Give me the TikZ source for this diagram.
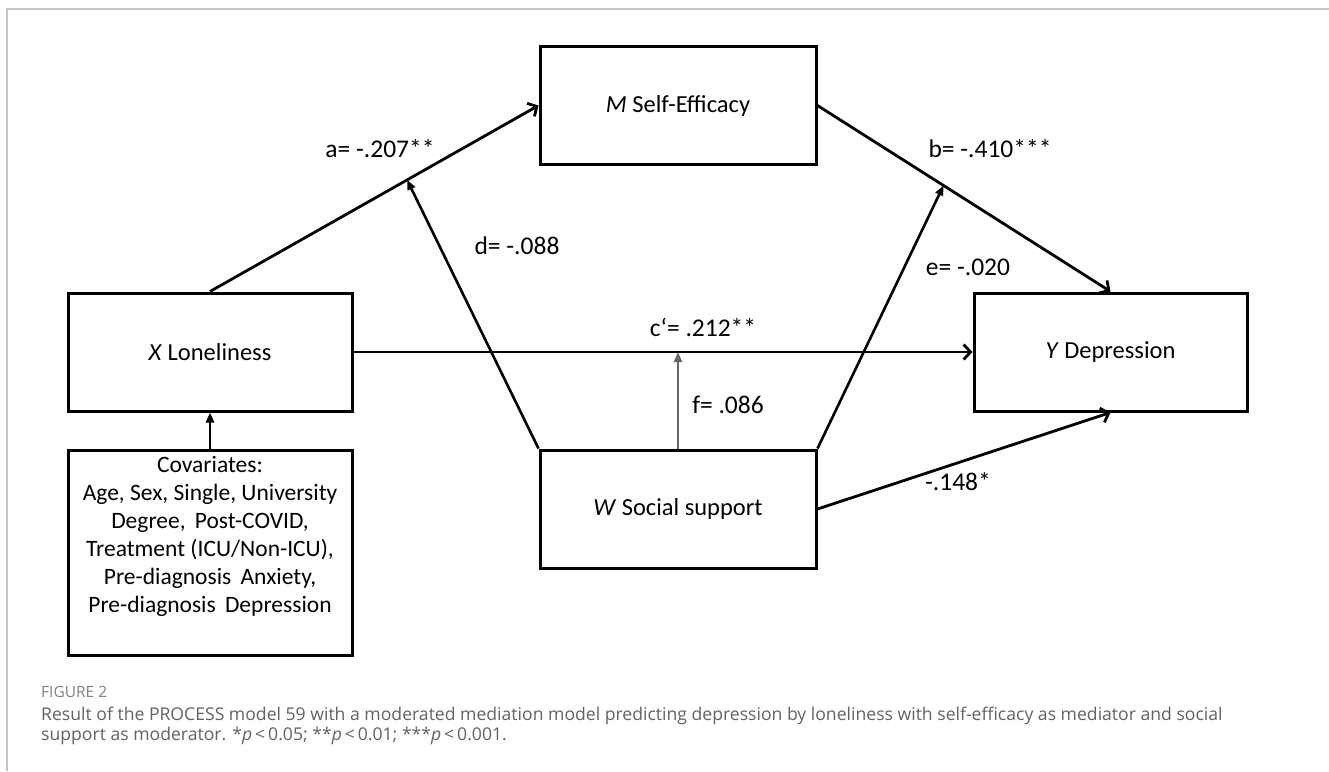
\documentclass[tikz,border=0pt]{standalone}
\usepackage{fontspec}
\setmainfont{Carlito}
\newfontfamily\captionfont{Open Sans}
\usetikzlibrary{arrows.meta,calc}
\definecolor{captiongray}{HTML}{626262}
\definecolor{figgray}{HTML}{808080}

\begin{document}
\begin{tikzpicture} [x=1pt, y=-1pt]
    \tikzstyle{every node} = [align=center, font=\fontsize{24.5}{28}\selectfont]
    \tikzstyle{var} = [draw, line width=3pt, minimum width=276pt, minimum height=118pt, inner sep=0pt]
    \tikzstyle{effect} = [line width=2.8pt, -{Straight Barb[length=7pt, width=15pt]}]
    \tikzstyle{moderate} = [line width=2.6pt, -{Triangle[length=10pt, width=8pt]}]
    \tikzstyle{coef} = [inner sep=1pt, font=\fontsize{25.5}{30}\selectfont]
    \useasboundingbox (0,0) rectangle (1329,771);
    \draw [gray!45, line width=1.2pt] (7,771) -- (7,9) -- (1329,9);
    % variables
    \node [var] (M) at (678,105.5) {\textit{M} Self-Efficacy};
    \node [var, minimum width=284pt] (X) at (210,352) {\textit{X} Loneliness};
    \node [var, minimum width=273pt] (Y) at (1110.5,352) {\textit{Y} Depression};
    \node [var] (W) at (678,509) {\textit{W} Social support};
    \node [var, minimum width=284pt, minimum height=205pt, font=\fontsize{23.5}{28}\selectfont] (cov) at (210,552.5)
        {Covariates:\\ Age, Sex, Single, University\\ Degree,\, Post-COVID,\\
         Treatment (ICU/Non-ICU),\\ Pre-diagnosis\, Anxiety,\\ Pre-diagnosis\, Depression\\[8pt]};
    % paths
    \draw [effect] (X.north) -- (M.west);
    \draw [effect] (M.east) -- (Y.north);
    \draw [effect] (X.east) -- (Y.west);
    \draw [effect] (W.east) -- (Y.south);
    \coordinate (onA) at ($(X.north)!0.6!(M.west)$);
    \coordinate (onB) at ($(M.east)!0.43!(Y.north)$);
    \coordinate (onC) at ($(X.east)!(W.north)!(Y.west)$);
    \draw [moderate] (W.north west) -- (onA);
    \draw [moderate] (W.north east) -- (onB);
    \draw [moderate, gray!80!black, line width=2.2pt] (W.north) -- (onC);
    \draw [moderate] (cov.north) -- (X.south);
    % coefficients
    \node [coef] (a) at (380,149) {a= -.207**};
    \node [coef] (b) at (990,149) {b= -.410***};
    \node [coef] (c) at (703,327) {c‘= .212**};
    \node [coef] (d) at (517,246) {d= -.088};
    \node [coef] (e) at (968,267) {e= -.020};
    \node [coef] (f) at (728,405) {f= .086};
    \node [coef] (g) at (958,482) {-.148*};
    % caption
    \node [anchor=base west, inner sep=0pt, font=\captionfont\fontsize{15.5}{18}\selectfont, text=figgray] (fig) at (41,697) {FIGURE 2};
    \node [anchor=base west, align=left, inner sep=0pt, font=\captionfont\fontsize{17.6}{20}\selectfont, text=captiongray] (caption) at (41,740)
        {Result of the PROCESS model 59 with a moderated mediation model predicting depression by loneliness with self-efficacy as mediator and social\\
         support as moderator. *\textit{p}\,<\,0.05; **\textit{p}\,<\,0.01; ***\textit{p}\,<\,0.001.};
\end{tikzpicture}
\end{document}
